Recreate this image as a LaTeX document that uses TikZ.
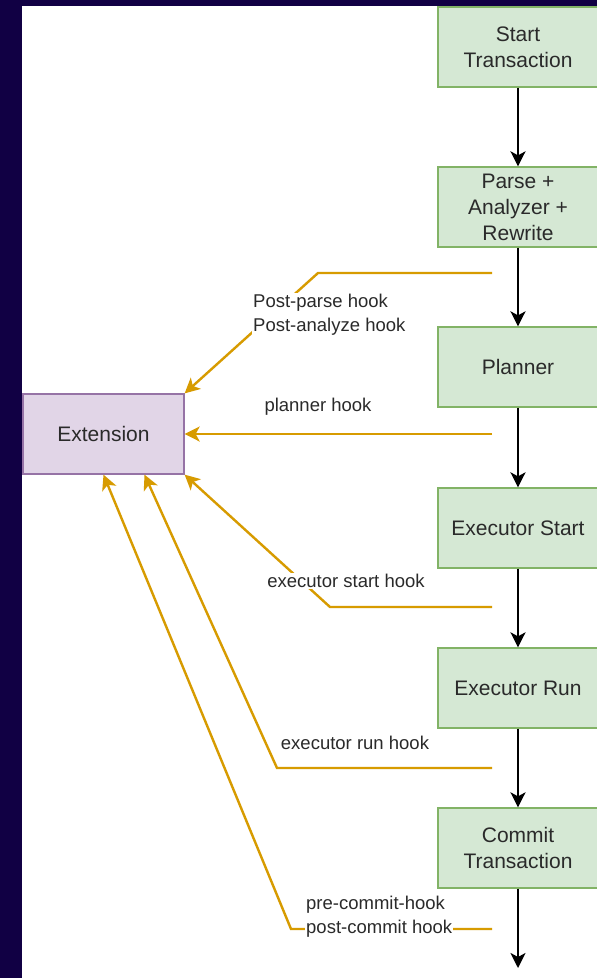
\documentclass[tikz,border=0pt]{standalone}
\usepackage{fontspec}
\setmainfont{Liberation Sans}
\usetikzlibrary{arrows.meta,calc}
\definecolor{navy}{RGB}{17,0,68}
\definecolor{gfill}{HTML}{D5E8D4}
\definecolor{gdraw}{HTML}{82B366}
\definecolor{pfill}{HTML}{E1D5E7}
\definecolor{pdraw}{HTML}{9673A6}
\definecolor{hookc}{HTML}{D79B00}
\definecolor{txt}{HTML}{2A2A2A}
\begin{document}
\begin{tikzpicture}[x=1pt,y=-1pt,
 stepbox/.style={draw=gdraw, fill=gfill, line width=1.3pt, minimum width=160pt, minimum height=80pt, align=center, font=\fontsize{21}{26}\selectfont, text=txt, inner sep=0pt},
 extbox/.style={draw=pdraw, fill=pfill, line width=1.3pt, minimum width=161pt, minimum height=80pt, font=\fontsize{21}{26}\selectfont, text=txt},
 flow/.style={draw=black, line width=2.4pt, -{Stealth[length=15pt,width=15pt,inset=4pt]}},
 hook/.style={draw=hookc, line width=2.4pt, -{Stealth[length=15pt,width=15pt,inset=4pt]}},
 lbl/.style={fill=white, font=\fontsize{18.5}{24}\selectfont, text=txt, inner sep=1pt, align=left}]
\useasboundingbox (0,0) rectangle (597,978);
\clip (0,0) rectangle (597,978);
\fill[navy] (0,0) rectangle (597,978);
\fill[white] (22,6) rectangle (600,980);

\node[stepbox] (start) at (518,47) {Start\\Transaction};
\node[stepbox] (parse) at (518,207) {Parse +\\Analyzer +\\Rewrite};
\node[stepbox] (planner) at (518,367) {Planner};
\node[stepbox] (exstart) at (518,528) {Executor Start};
\node[stepbox] (exrun) at (518,688) {Executor Run};
\node[stepbox] (commit) at (518,848) {Commit\\Transaction};
\coordinate (endpt) at (518,968);

\node[extbox] (ext) at (103.5,434) {Extension};

\draw[flow] (start) -- (parse);
\draw[flow] (parse) -- (planner);
\draw[flow] (planner) -- (exstart);
\draw[flow] (exstart) -- (exrun);
\draw[flow] (exrun) -- (commit);
\draw[flow] (commit) -- (endpt);

\coordinate (h1) at (492,273);
\coordinate (h2) at (492,434);
\coordinate (h3) at (492,607);
\coordinate (h4) at (492,768);
\coordinate (h5) at (492,929);

\draw[hook] (h1) -- (318,273) -- (ext.north east);
\draw[hook] (h2) -- (ext.east);
\draw[hook] (h3) -- (330,607) -- (ext.south east);
\draw[hook] (h4) -- (277,768) -- ($(ext.south)+(41,0)$);
\draw[hook] (h5) -- (291,929) -- (ext.south);

\node[lbl, anchor=west] (l1) at (252,315) {Post-parse hook\\Post-analyze hook};
\node[lbl] (l2) at (318,407) {planner hook};
\node[lbl] (l3) at (346,581) {executor start hook};
\node[lbl] (l4) at (355,743) {executor run hook};
\node[lbl, anchor=west] (l5) at (305,917) {pre-commit-hook\\post-commit hook};
\end{tikzpicture}
\end{document}
